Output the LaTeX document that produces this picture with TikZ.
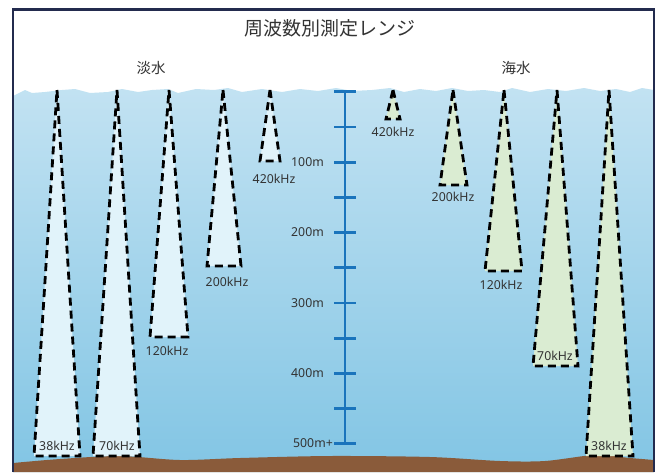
\documentclass[tikz,border=0pt]{standalone}
\usepackage{fontspec}
\setmainfont{Noto Sans}
\newfontfamily\jpfont{Noto Sans CJK JP}
\definecolor{framecol}{HTML}{232B4E}
\definecolor{watertop}{HTML}{C2E2F2}
\definecolor{waterbot}{HTML}{82C5E4}
\definecolor{floorcol}{HTML}{8A5B3A}
\definecolor{scalecol}{HTML}{1A74BC}
\definecolor{freshfill}{HTML}{E1F3FA}
\definecolor{seafill}{HTML}{DAECD2}
\definecolor{labelcol}{HTML}{333333}
\tikzset{
  beamline/.style={draw=black, line width=2.8pt, dash pattern=on 8pt off 5pt, line join=miter},
  scaleline/.style={draw=scalecol, line width=2.8pt},
  freqlabel/.style={text=labelcol, font=\fontsize{12.3}{13}\selectfont, inner sep=0pt},
  depthlabel/.style={text=labelcol, font=\fontsize{12.3}{13}\selectfont, inner sep=0pt, anchor=east},
  zonelabel/.style={text=labelcol, font=\jpfont\fontsize{14.5}{15}\selectfont, inner sep=0pt},
  titlelabel/.style={text=labelcol, font=\jpfont\fontsize{19}{20}\selectfont, inner sep=0pt}
}
% apex x, base left x, base right x, base y, fill colour
\newcommand{\beamshape}[5]{%
  \filldraw[beamline, fill=#5] (#1,90) -- (#3,#4) -- (#2,#4) -- cycle;}
\begin{document}
\begin{tikzpicture}[x=1pt,y=-1pt]
\useasboundingbox (0,0) rectangle (661,472);
\fill[white] (0,0) rectangle (661,472);

% water body with a ruffled surface
\shade[top color=watertop, bottom color=waterbot]
  (13,96) -- (25,90) -- (32,93) -- (45,92) -- (62,90) -- (75,89) -- (90,93) -- (108,92)
  -- (122,89) -- (138,92) -- (152,90) -- (168,89) -- (178,93) -- (196,89) -- (214,90)
  -- (228,88) -- (242,92) -- (262,89) -- (282,92) -- (300,89) -- (318,91) -- (336,88)
  -- (352,91) -- (372,90) -- (390,88) -- (404,92) -- (420,89) -- (436,91) -- (452,88)
  -- (468,91) -- (484,90) -- (500,92) -- (512,88) -- (530,92) -- (548,89) -- (566,91)
  -- (584,88) -- (600,91) -- (616,89) -- (630,92) -- (642,88) -- (654,90)
  -- (654,472) -- (13,472) -- cycle;

% sea floor
\fill[floorcol] plot[smooth] coordinates {(13,463) (60,459) (120,456) (180,460) (240,458)
  (330,456) (430,457) (500,461) (545,461) (595,455) (630,458) (654,460)}
  -- (654,472) -- (13,472) -- cycle;

% fresh-water beams
\beamshape{57}{34}{80}{456}{freshfill}
\beamshape{117}{93}{140}{456}{freshfill}
\beamshape{169}{150}{188}{337}{freshfill}
\beamshape{223}{207}{241}{266}{freshfill}
\beamshape{270}{260}{280}{161}{freshfill}

% sea-water beams
\beamshape{393}{386}{400}{119}{seafill}
\beamshape{453}{440}{467}{185}{seafill}
\beamshape{504}{485}{522}{271}{seafill}
\beamshape{557}{533}{578}{366}{seafill}
\beamshape{609}{586}{633}{456}{seafill}

% depth scale
\draw[scaleline] (345,91.7) -- (345,443.7);
\foreach \i in {0,...,10}
  \draw[scaleline] (334,91.7+35.2*\i) -- (356,91.7+35.2*\i);
\node[depthlabel] (d100) at (324,161.9) {100m};
\node[depthlabel] (d200) at (324,232.3) {200m};
\node[depthlabel] (d300) at (324,302.7) {300m};
\node[depthlabel] (d400) at (324,373.1) {400m};
\node[depthlabel] (d500) at (333,443.5) {500m+};

% frequency labels
\node[freqlabel] (f38) at (57,446) {38kHz};
\node[freqlabel] (f70) at (117,446) {70kHz};
\node[freqlabel] (f120) at (167,351) {120kHz};
\node[freqlabel] (f200) at (227,282) {200kHz};
\node[freqlabel] (f420) at (274,179) {420kHz};
\node[freqlabel] (s420) at (393,132) {420kHz};
\node[freqlabel] (s200) at (453,197) {200kHz};
\node[freqlabel] (s120) at (501,285) {120kHz};
\node[freqlabel] (s70) at (555,356) {70kHz};
\node[freqlabel] (s38) at (609,446) {38kHz};

% headings
\node[titlelabel] (title) at (330,28) {周波数別測定レンジ};
\node[zonelabel] (fresh) at (151,68) {淡水};
\node[zonelabel] (sea) at (516,68) {海水};

% frame, open at the bottom
\draw[framecol, line width=2.6pt] (13,472) -- (13,9.3) -- (654,9.3) -- (654,472);
\end{tikzpicture}
\end{document}
